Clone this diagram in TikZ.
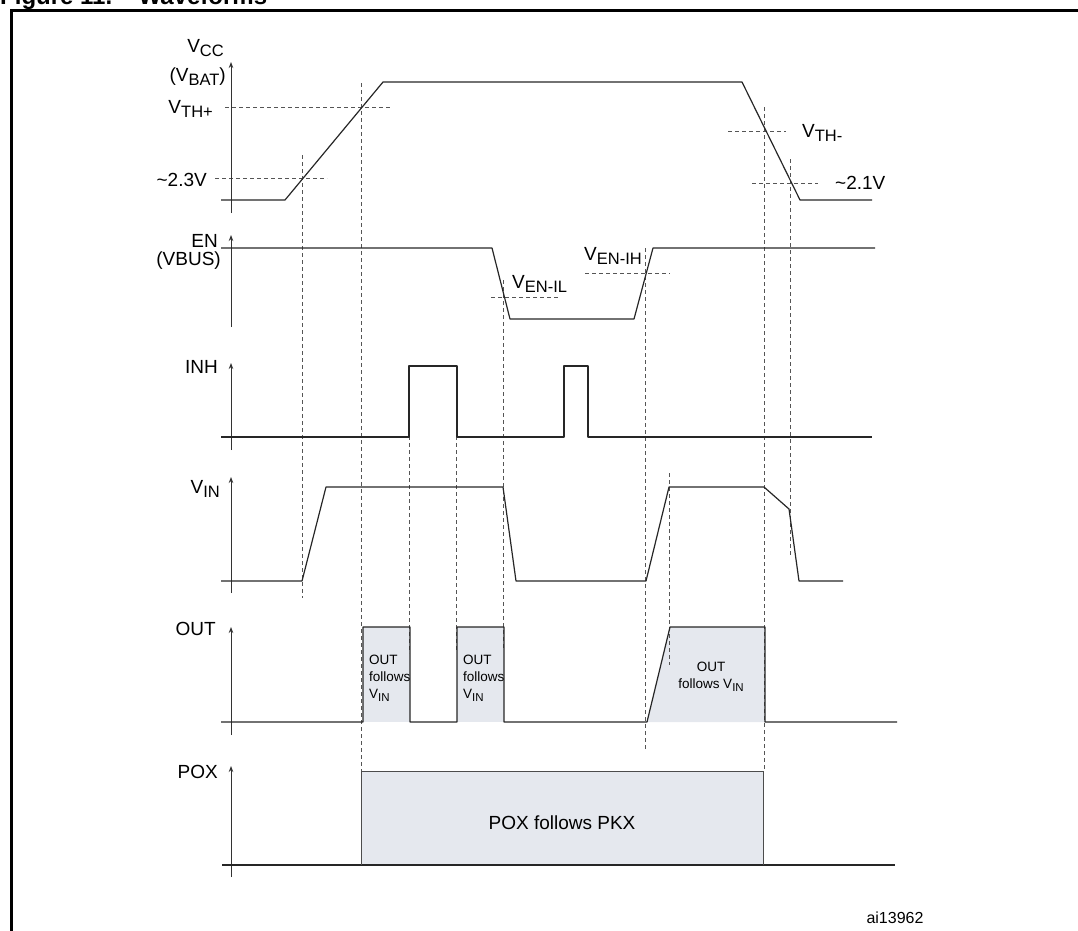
\documentclass[tikz,border=0pt]{standalone}
\usepackage{fontspec}
\setmainfont{Liberation Sans}
\usetikzlibrary{arrows.meta}
\definecolor{boxgray}{RGB}{229,232,238}
\definecolor{guidegray}{RGB}{85,85,85}
\newcommand{\subL}[1]{\raisebox{-0.22em}{\fontsize{16.5}{16.5}\selectfont #1}}
\newcommand{\subS}[1]{\raisebox{-0.25em}{\fontsize{11.5}{11.5}\selectfont #1}}
\begin{document}
\begin{tikzpicture}[x=1pt,y=-1pt,
  wave/.style={line width=1.2pt, draw=black!85, line join=round},
  thinwave/.style={line width=0.8pt, draw=black!70},
  axisline/.style={line width=0.9pt, draw=black!80, -{Stealth[length=6pt,width=4.5pt]}},
  guide/.style={line width=1pt, draw=guidegray, dash pattern=on 4pt off 3pt},
  lbl/.style={font=\fontsize{19}{21}\selectfont, inner sep=0pt},
  small/.style={font=\fontsize{13.5}{17}\selectfont, inner sep=0pt},
  shade/.style={fill=boxgray, draw=none}]
\useasboundingbox (0,0) rectangle (1078,930);
\begin{scope}
\clip (0,0) rectangle (1078,930);
\node[font=\bfseries\fontsize{24}{24}\selectfont, anchor=base west, inner sep=0pt] (title) at (0,4) {Figure 11.\hspace{1.1em}Waveforms};
\draw[line width=2.3pt] (11.5,935) -- (11.5,10.5) -- (1085,10.5);
\end{scope}

% shaded areas
\fill[shade] (363,627) rectangle (410,722);
\fill[shade] (457,627) rectangle (504,722);
\fill[shade] (647,722) -- (670,627) -- (765,627) -- (765,722) -- cycle;
\fill[shade] (361,771) rectangle (763,865);

% guides
\draw[guide] (302,155) -- (302,598);
\draw[guide] (361,83) -- (361,771);
\draw[guide] (409,415) -- (409,653);
\draw[guide] (456,415) -- (456,652);
\draw[guide] (503,280) -- (503,650);
\draw[guide] (645,248) -- (645,750);
\draw[guide] (669,473) -- (669,665);
\draw[guide] (764,107) -- (764,771);
\draw[guide] (790,159) -- (790,557);
\draw[guide] (225,107) -- (392,107);
\draw[guide] (215,178) -- (327,178);
\draw[guide] (728,131) -- (786,131);
\draw[guide] (752,183) -- (818,183);
\draw[guide] (491,297) -- (558,297);
\draw[guide] (585,273) -- (670,273);

% axes
\foreach \tip/\bot in {62/213, 235/327, 363/450, 477/593, 627/735, 766/877}
  \draw[axisline] (231,\bot) -- (231,\tip);

% waveforms
\draw[wave] (221,200) -- (285,200) -- (383,82) -- (742,82) -- (800,200) -- (872,200);
\draw[wave] (221,248) -- (492,248) -- (510,319) -- (634,319) -- (653,248) -- (875,248);
\draw[wave] (221,437) -- (409,437) -- (409,366) -- (457,366) -- (457,437) -- (564,437)
  -- (564,366) -- (588,366) -- (588,437) -- (872,437);
\draw[wave] (221,581) -- (302,581) -- (326,487) -- (503,487) -- (516,581) -- (646,581)
  -- (669,487) -- (764,487) -- (789,509) -- (799,581) -- (843,581);
\draw[wave] (221,722) -- (363,722) -- (363,627) -- (410,627) -- (410,722) -- (457,722)
  -- (457,627) -- (504,627) -- (504,722) -- (647,722) -- (670,627) -- (765,627)
  -- (765,722) -- (897,722);
\draw[wave] (222,865) -- (895,865);
\draw[thinwave] (361,865) -- (361,771) -- (763,771) -- (763,865);

% axis labels
\node[lbl, anchor=base east] (lvcc) at (224,52) {V\subL{CC}};
\node[lbl, anchor=base east] (lvbat) at (226,81) {(V\subL{BAT})};
\node[lbl, anchor=base east] (lvthp) at (213,113) {V\subL{TH+}};
\node[lbl, anchor=base east] (l23) at (207,186) {\char`\~2.3V};
\node[lbl, anchor=base west] (lvthm) at (802,137) {V\subL{TH-}};
\node[lbl, anchor=base west] (l21) at (835,189) {\char`\~2.1V};
\node[lbl, anchor=base east] (len) at (218,247) {EN};
\node[lbl, anchor=base east] (lvbus) at (221,265) {(VBUS)};
\node[lbl, anchor=base west] (lvenil) at (512,288) {V\subL{EN-IL}};
\node[lbl, anchor=base west] (lvenih) at (584,260) {V\subL{EN-IH}};
\node[lbl, anchor=base east] (linh) at (218,373) {INH};
\node[lbl, anchor=base east] (lvin) at (220,493) {V\subL{IN}};
\node[lbl, anchor=base east] (lout) at (216,635) {OUT};
\node[lbl, anchor=base east] (lpox) at (218,778) {POX};

% box texts
\node[small, anchor=base west, align=left] (t1) at (369,698) {OUT\\follows\\V\subS{IN}};
\node[small, anchor=base west, align=left] (t2) at (463,698) {OUT\\follows\\V\subS{IN}};
\node[small, anchor=base, align=center] (t3) at (711,688) {OUT\\follows V\subS{IN}};
\node[lbl, anchor=center] (tpox) at (562,823) {POX follows PKX};
\node[font=\fontsize{16}{16}\selectfont, inner sep=0pt, anchor=center] (tid) at (895,918) {ai13962};
\end{tikzpicture}
\end{document}
